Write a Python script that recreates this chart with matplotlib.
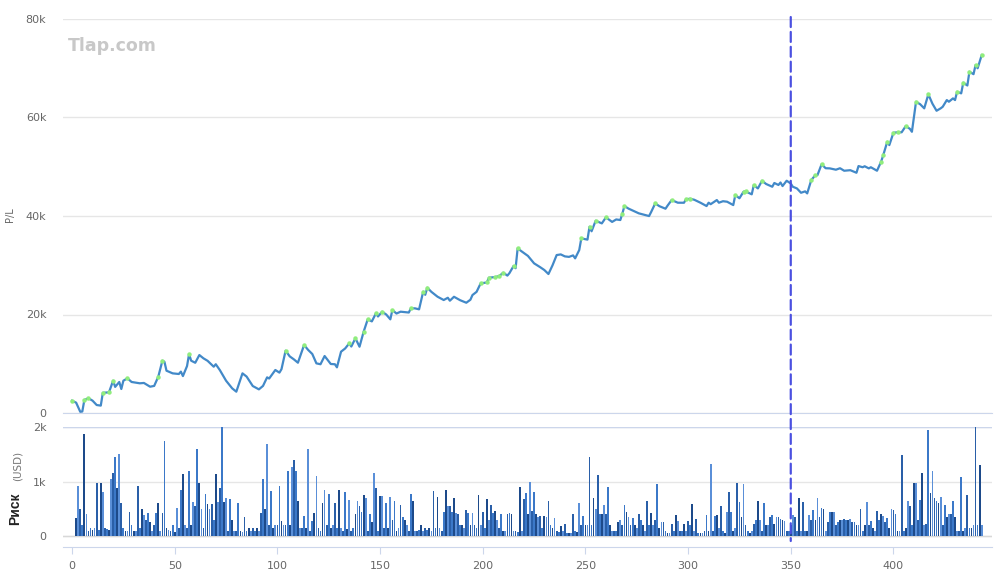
import numpy as np
import matplotlib.pyplot as plt
from matplotlib.patches import ConnectionPatch

# P/L curve: trade number -> cumulative P/L (USD)
pl_trade = [0, 2, 4, 5, 6, 8, 10, 12, 14, 15, 18, 20, 21, 23, 24, 25, 27, 29, 33, 35,
            38, 40, 42, 44, 45, 46, 49, 52, 53, 54, 56, 57, 58, 60, 62, 64, 66, 69, 70, 72,
            75, 78, 80, 83, 85, 88, 91, 93, 95, 96, 99, 101, 102, 104, 106, 108, 110, 113, 115, 117,
            119, 121, 123, 126, 128, 129, 131, 133, 135, 136, 138, 140, 142, 144, 146, 148, 149, 151, 153, 155,
            156, 158, 160, 164, 165, 167, 169, 171, 172, 173, 175, 178, 181, 183, 184, 186, 189, 192, 194, 195,
            197, 199, 202, 203, 206, 208, 210, 212, 213, 215, 216, 217, 219, 222, 225, 228, 230, 232, 234, 236,
            238, 240, 242, 244, 245, 247, 248, 251, 252, 253, 255, 258, 260, 263, 265, 267, 268, 269, 271, 276,
            281, 282, 284, 286, 289, 290, 292, 295, 298, 299, 301, 303, 306, 309, 310, 311, 314, 315, 317, 319,
            322, 323, 325, 327, 328, 331, 332, 334, 336, 338, 341, 342, 344, 345, 346, 348, 350, 351, 353, 355,
            357, 358, 360, 362, 363, 365, 367, 369, 372, 374, 376, 379, 382, 383, 385, 386, 388, 389, 392, 394,
            395, 397, 398, 400, 402, 404, 406, 408, 409, 411, 413, 415, 417, 419, 421, 423, 424, 426, 427, 429,
            430, 431, 433, 434, 436, 437, 439, 440, 441, 443]
pl_value = [2500, 2100, 250, 300, 2640, 3000, 2500, 1620, 1500, 4100, 4200, 6560, 5300, 6300, 4870, 6560, 7040, 6300, 6030, 6100,
            5340, 5500, 7370, 10620, 10400, 8590, 8050, 7920, 8400, 7500, 9530, 11980, 10620, 10200, 11770, 11100, 10600, 9400, 9900, 8700,
            6560, 5000, 4330, 8050, 7400, 5480, 4800, 5500, 7240, 7000, 8730, 8200, 8900, 12650, 11500, 10900, 10210, 13800, 12800, 11980,
            10080, 9900, 11570, 9950, 9900, 9270, 12450, 13100, 14150, 13500, 15160, 13460, 16500, 19020, 18600, 20240, 19600, 20570, 20000, 19020,
            20910, 20200, 20570, 20400, 21250, 21250, 21050, 24620, 24000, 25440, 24600, 23610, 22940, 23400, 22800, 23600, 22900, 22390, 23000, 23950,
            24600, 26330, 26500, 27470, 27600, 27800, 28480, 27900, 28400, 29840, 29400, 33430, 32800, 31900, 30390, 29600, 29030, 28220, 30000, 32070,
            32200, 31800, 31700, 32000, 31400, 33090, 35460, 35200, 37820, 36900, 39040, 38500, 39720, 38800, 39300, 39180, 40500, 42020, 41500, 40540,
            39990, 40800, 42560, 42000, 41480, 42100, 43240, 42700, 42690, 43400, 43500, 43300, 42700, 42020, 42700, 42400, 43240, 42700, 43000, 42900,
            42220, 44250, 43600, 44930, 45000, 44400, 46280, 45600, 47160, 46500, 45940, 46700, 46300, 46800, 46080, 47160, 46600, 45940, 45600, 44720,
            45000, 44590, 47300, 48300, 48300, 50490, 49700, 49670, 49400, 49700, 49190, 49300, 48780, 50140, 49900, 50100, 49670, 49900, 49190, 51020,
            52300, 55080, 54400, 56900, 57000, 57000, 58260, 57700, 57100, 63190, 62700, 61860, 64700, 62800, 61370, 61860, 62180, 63540, 63200, 63880,
            63540, 65230, 64900, 67060, 66500, 69290, 68800, 70650, 70000, 72680]

# risk per trade (USD), one value per trade 0..443
risk = [0, 0, 330, 920, 490, 200, 1880, 400, 100, 150,
        120, 150, 970, 120, 980, 800, 150, 130, 120, 1050,
        1150, 1450, 880, 1500, 600, 150, 100, 100, 440, 200,
        100, 100, 920, 150, 500, 380, 300, 420, 250, 100,
        200, 420, 600, 100, 420, 1750, 150, 120, 100, 200,
        80, 520, 150, 850, 1130, 200, 150, 1200, 200, 630,
        550, 1600, 980, 500, 150, 780, 580, 500, 580, 300,
        1130, 620, 880, 2000, 620, 700, 100, 680, 300, 100,
        100, 600, 100, 80, 350, 100, 150, 100, 150, 100,
        150, 100, 420, 1050, 500, 1680, 200, 820, 150, 200,
        200, 920, 270, 200, 200, 1200, 200, 1270, 1400, 1200,
        640, 150, 150, 360, 150, 1600, 100, 280, 420, 1100,
        150, 100, 600, 850, 200, 780, 150, 200, 600, 150,
        850, 150, 100, 800, 130, 670, 100, 150, 400, 650,
        550, 450, 750, 700, 100, 400, 250, 1150, 880, 100,
        730, 730, 150, 600, 150, 720, 300, 650, 100, 150,
        570, 350, 300, 200, 100, 770, 650, 100, 100, 120,
        200, 100, 150, 120, 150, 100, 820, 150, 720, 150,
        100, 450, 850, 550, 550, 450, 700, 420, 400, 200,
        200, 150, 480, 420, 200, 420, 200, 150, 760, 200,
        450, 150, 680, 300, 570, 420, 460, 300, 150, 410,
        100, 100, 410, 430, 400, 100, 100, 80, 900, 100,
        680, 790, 400, 1000, 460, 800, 400, 350, 360, 150,
        360, 350, 650, 200, 150, 330, 100, 80, 180, 100,
        220, 50, 50, 50, 410, 100, 80, 600, 200, 360,
        200, 200, 1450, 200, 700, 500, 1120, 400, 400, 570,
        400, 900, 200, 100, 100, 100, 250, 300, 200, 570,
        450, 350, 200, 330, 200, 150, 400, 300, 200, 100,
        650, 200, 420, 200, 300, 950, 150, 250, 250, 100,
        50, 50, 220, 100, 380, 280, 100, 100, 220, 100,
        270, 200, 580, 100, 320, 50, 50, 50, 100, 380,
        100, 1320, 100, 360, 380, 150, 550, 100, 50, 450,
        800, 450, 100, 150, 970, 630, 350, 960, 200, 100,
        50, 100, 220, 300, 650, 300, 100, 600, 200, 200,
        350, 380, 220, 350, 350, 320, 300, 270, 100, 100,
        200, 380, 350, 100, 700, 100, 630, 100, 100, 380,
        300, 480, 300, 700, 350, 520, 500, 100, 250, 450,
        450, 450, 200, 250, 300, 300, 320, 300, 300, 320,
        250, 250, 200, 200, 500, 100, 200, 620, 200, 280,
        150, 100, 460, 300, 400, 370, 250, 330, 150, 500,
        480, 400, 100, 100, 1480, 100, 150, 650, 550, 200,
        980, 980, 300, 660, 1150, 200, 220, 1940, 790, 1200,
        700, 650, 600, 720, 200, 570, 350, 400, 400, 650,
        350, 100, 100, 1080, 100, 150, 760, 150, 150, 200,
        2000, 200, 1300, 200]

split_trade = 350
pl_ticks = [0, 20000, 40000, 60000, 80000]
pl_ticklabels = ['0', '20k', '40k', '60k', '80k']
risk_ticks = [0, 1000, 2000]
risk_ticklabels = ['0', '1k', '2k']
x_ticks = list(range(0, 401, 50))

plt.rcParams['font.family'] = ['DejaVu Sans']
grid_c = '#e6e6e6'
axis_c = '#ccd6eb'
label_c = '#666666'

fig = plt.figure(figsize=(9.99, 5.81), dpi=100)
ax1 = fig.add_axes([63 / 999, 168 / 581, 929 / 999, 394 / 581])
ax2 = fig.add_axes([63 / 999, 34 / 581, 929 / 999, 120 / 581])

xlim = (-4.4, 448)

# --- P/L panel ---
tr = np.array(pl_trade)
val = np.array(pl_value)
prev_max = np.concatenate([[-np.inf], np.maximum.accumulate(val)[:-1]])
is_high = val > prev_max

ax1.plot(tr, val, color='#4289c8', lw=1.6, zorder=3)
ax1.plot(tr[is_high], val[is_high], 'o', color='#90ed7d', ms=3.2, mec='none', zorder=4)
ax1.set_xlim(*xlim)
ax1.set_ylim(0, 80000)
ax1.set_yticks(pl_ticks)
ax1.set_yticklabels(pl_ticklabels)
ax1.set_xticks([])
ax1.grid(axis='y', color=grid_c, lw=1)
ax1.set_axisbelow(True)
for s in ['top', 'left', 'right']:
    ax1.spines[s].set_visible(False)
ax1.spines['bottom'].set_color(axis_c)
ax1.tick_params(axis='y', length=0, pad=12, labelsize=8, labelcolor=label_c)

fig.text(10 / 999, 1 - 215 / 581, 'P/L', rotation=90, ha='center', va='center',
         fontsize=7, color=label_c)
fig.text(68 / 999, 1 - 46 / 581, 'Tlap.com', ha='left', va='center',
         fontsize=12.5, fontweight='bold', color='#c8c8c8')

# --- risk panel ---
shades = ['#2a5fa8', '#3b78c8', '#1d4a8a', '#5a8fd8']
bar_colors = [shades[i % len(shades)] for i in range(len(risk))]
ax2.bar(np.arange(len(risk)), risk, width=0.85, color=bar_colors, zorder=3)
ax2.set_xlim(*xlim)
ax2.set_ylim(-200, 2000)
ax2.set_yticks(risk_ticks)
ax2.set_yticklabels(risk_ticklabels)
ax2.set_xticks(x_ticks)
ax2.grid(axis='y', color=grid_c, lw=1)
ax2.axhline(0, color='#d8d8d8', lw=1, zorder=2)
ax2.axhline(2000, color=axis_c, lw=1, zorder=2)
ax2.set_axisbelow(True)
for s in ['top', 'left', 'right']:
    ax2.spines[s].set_visible(False)
ax2.spines['bottom'].set_color(axis_c)
ax2.tick_params(axis='y', length=0, pad=12, labelsize=8, labelcolor=label_c)
ax2.tick_params(axis='x', length=5, color=axis_c, pad=5, labelsize=8, labelcolor=label_c)

fig.text(15 / 999, 1 - 509 / 581, 'Риск', rotation=90, ha='center', va='center',
         fontsize=10, fontweight='bold', color='#222222', family='Liberation Sans')
fig.text(18 / 999, 1 - 466 / 581, '(USD)', rotation=90, ha='center', va='center',
         fontsize=7.5, color='#777777')

# dashed separator spanning both panels
con = ConnectionPatch(xyA=(split_trade, 80400), coordsA=ax1.transData,
                      xyB=(split_trade, -90), coordsB=ax2.transData,
                      color='#4b50e0', lw=1.6, linestyle=(0, (4.5, 2.2)), zorder=10)
fig.add_artist(con)

fig.savefig('out.png', dpi=100)
